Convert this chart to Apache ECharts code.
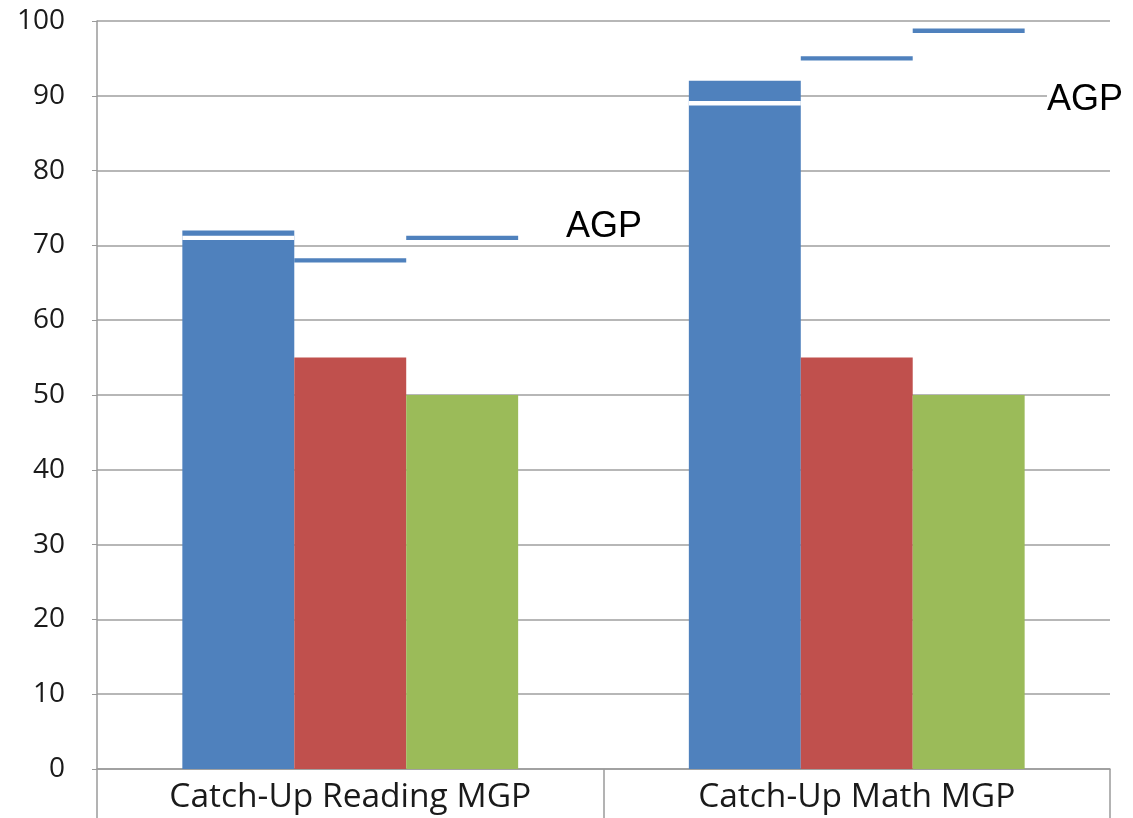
<!DOCTYPE html>
<html>
<head>
<meta charset="utf-8">
<script src="https://cdn.jsdelivr.net/npm/echarts@6/dist/echarts.min.js"></script>
<style>
  html, body { margin: 0; padding: 0; background: #fff; }
  #chart { width: 1133px; height: 818px; }
</style>
</head>
<body>
<div id="chart"></div>
<script>
// Categories and values
const categories = ['Catch-Up Reading MGP', 'Catch-Up Math MGP'];
const mgpBlue = [72, 92];
const mgpRed = [55, 55];
const mgpGreen = [50, 50];
// AGP dashes drawn over each bar slot
const agpBlue = [71, 89];
const agpRed = [68, 95];
const agpGreen = [71, 98.7];
const yTicks = { min: 0, max: 100, interval: 10 };

const BLUE = '#4F81BD', RED = '#C0504D', GREEN = '#9BBB59';
const CATEGORY_GAP = 0.337;

function dashSeries(values, slot, color) {
  return {
    type: 'custom',
    z: 5,
    data: values.map((v, i) => [i, v]),
    encode: { x: 0, y: 1 },
    renderItem: function (params, api) {
      const pt = api.coord([api.value(0), api.value(1)]);
      const band = api.size([1, 0])[0];
      const group = band * (1 - CATEGORY_GAP);
      const barW = group / 3;
      const x0 = pt[0] - group / 2 + slot * barW;
      return {
        type: 'rect',
        shape: { x: x0, y: pt[1] - 2.2, width: barW, height: 4.4 },
        style: { fill: color }
      };
    }
  };
}

const agpFont = '36px "Liberation Sans", Arial, sans-serif';

const chart = echarts.init(document.getElementById('chart'), null, { renderer: 'canvas' });
chart.setOption({
  animation: false,
  grid: { left: 97, right: 23, top: 21, bottom: 49, containLabel: false },
  xAxis: {
    type: 'category',
    data: categories,
    axisLine: { lineStyle: { color: '#9a9a9a', width: 1.5 } },
    axisTick: { show: true, length: 49, interval: 0, lineStyle: { color: '#9a9a9a', width: 1.5 } },
    axisLabel: { color: '#1a1a1a', fontFamily: 'Open Sans', fontSize: 33.5, margin: 11 }
  },
  yAxis: {
    type: 'value',
    min: yTicks.min, max: yTicks.max, interval: yTicks.interval,
    axisLine: { show: true, lineStyle: { color: '#9a9a9a', width: 1.5 } },
    axisTick: { show: true, length: 5, lineStyle: { color: '#9a9a9a' } },
    splitLine: { lineStyle: { color: '#9f9f9f', width: 1.5 } },
    axisLabel: { color: '#1a1a1a', fontFamily: 'Open Sans', fontSize: 28, margin: 32 }
  },
  series: [
    { type: 'bar', data: mgpBlue, itemStyle: { color: BLUE }, barGap: '0%', barCategoryGap: (CATEGORY_GAP * 100) + '%' },
    { type: 'bar', data: mgpRed, itemStyle: { color: RED } },
    { type: 'bar', data: mgpGreen, itemStyle: { color: GREEN } },
    dashSeries(agpBlue, 0, '#ffffff'),
    dashSeries(agpRed, 1, BLUE),
    dashSeries(agpGreen, 2, BLUE)
  ],
  graphic: [
    { type: 'text', z: 100, left: 566, top: 209,
      style: { text: 'AGP', font: agpFont, fill: '#000', backgroundColor: '#fff', padding: [0, 2, 0, 0] } },
    { type: 'text', z: 100, left: 1047, top: 82,
      style: { text: 'AGP', font: agpFont, fill: '#000', backgroundColor: '#fff', padding: [0, 2, 0, 0] } }
  ]
});
</script>
</body>
</html>
